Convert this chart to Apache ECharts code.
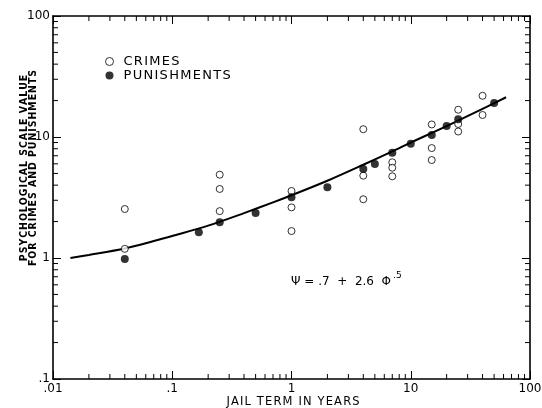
<!DOCTYPE html>
<html>
<head>
<meta charset="utf-8">
<script src="https://cdn.jsdelivr.net/npm/echarts@6/dist/echarts.min.js"></script>
<style>
  html, body { margin: 0; padding: 0; background: #fff; }
  #chart { width: 542px; height: 408px; }
</style>
</head>
<body>
<div id="chart"></div>
<script>
/* 数据: [jail term in years, psychological scale value] */
var crimes = [
    [0.04, 2.54], [0.04, 1.19],
    [0.25, 4.88], [0.25, 3.72], [0.25, 2.44],
    [1, 3.58], [1, 2.62], [1, 1.67],
    [4, 11.6], [4, 4.79], [4, 3.06],
    [7, 6.18], [7, 5.57], [7, 4.73],
    [15, 12.7], [15, 8.1], [15, 6.45],
    [25, 16.8], [25, 12.8], [25, 11.1],
    [40, 21.9], [40, 15.2]
];
var punishments = [
    [0.04, 0.98], [0.167, 1.63], [0.25, 1.97], [0.5, 2.35],
    [1, 3.17], [2, 3.84], [4, 5.44], [5, 5.98], [7, 7.42],
    [10, 8.8], [15, 10.4], [20, 12.3], [25, 14.0], [50, 19.1]
];
/* fitted curve */
var fitCurve = [
    [0.014, 1.0], [0.02, 1.06], [0.04, 1.2], [0.07, 1.38], [0.1, 1.52],
    [0.2, 1.85], [0.4, 2.35], [0.7, 2.88], [1, 3.3], [2, 4.35],
    [4, 5.9], [7, 7.6], [10, 9.0], [20, 12.3], [40, 17.1], [63, 21.3]
];
var xMinorTicks = [0.02,0.03,0.04,0.05,0.06,0.07,0.08,0.09,
    0.2,0.3,0.4,0.5,0.6,0.7,0.8,0.9, 2,3,4,5,6,7,8,9, 20,30,40,50,60,70,80,90];
var yMinorTicks = [0.2,0.3,0.4,0.5,0.6,0.7,0.8,0.9, 2,3,4,5,6,7,8,9, 20,30,40,50,60,70,80,90];

var FONT = 'DejaVu Sans';

/*字母间距*/
var spaced = function (s) {
    return s.split('').join('\u200A');
};
var tickLabel = function (v) {
    if (v < 1) return String(v).replace(/^0/, '');
    return String(v);
};

var box = document.getElementById('chart');
var myChart = echarts.init(box);

var minorTickSeries = function (vals, dim) {
    return {
        type: 'custom',
        silent: true,
        coordinateSystem: 'cartesian2d',
        data: vals.map(function (v) { return [v]; }),
        clip: false,
        z: 5,
        renderItem: function (params, api) {
            var v = api.value(0);
            var a, b, L = 5, style = { stroke: '#000', lineWidth: 1 };
            if (dim === 'x') {
                a = api.coord([v, 0.1]);
                b = api.coord([v, 100]);
                return { type: 'group', children: [
                    { type: 'line', shape: { x1: a[0], y1: a[1], x2: a[0], y2: a[1] - L }, style: style },
                    { type: 'line', shape: { x1: b[0], y1: b[1], x2: b[0], y2: b[1] + L }, style: style }
                ]};
            }
            a = api.coord([0.01, v]);
            b = api.coord([100, v]);
            return { type: 'group', children: [
                { type: 'line', shape: { x1: a[0], y1: a[1], x2: a[0] + L, y2: a[1] }, style: style },
                { type: 'line', shape: { x1: b[0], y1: b[1], x2: b[0] - L, y2: b[1] }, style: style }
            ]};
        }
    };
};

var axisCommon = {
    type: 'log',
    logBase: 10,
    axisLine: { show: true, lineStyle: { color: '#000', width: 1.6 } },
    axisTick: { show: true, inside: true, length: 8, lineStyle: { color: '#000', width: 1 } },
    splitLine: { show: false }
};

var option = {
    animation: false,
    backgroundColor: '#fff',
    grid: { left: 53, right: 12, top: 16, bottom: 29, outerBoundsMode: 'none', containLabel: false },
    legend: {
        orient: 'vertical',
        left: 100,
        top: 50,
        itemWidth: 8,
        itemHeight: 8,
        itemGap: 1,
        icon: 'circle',
        textStyle: { fontFamily: FONT, fontSize: 13, color: '#000', padding: [0, 0, 0, 5] },
        formatter: function (n) { return spaced(n); },
        data: [
            { name: 'CRIMES', itemStyle: { color: '#fff', borderColor: '#000', borderWidth: 1 } },
            { name: 'PUNISHMENTS', itemStyle: { color: '#000' } }
        ]
    },
    xAxis: [
        Object.assign({}, axisCommon, {
            min: 0.01, max: 100,
            position: 'bottom',
            axisLabel: { fontFamily: FONT, fontSize: 12, color: '#000', margin: 4, formatter: tickLabel }
        }),
        Object.assign({}, axisCommon, {
            min: 0.01, max: 100,
            position: 'top',
            axisLabel: { show: false }
        })
    ],
    yAxis: [
        Object.assign({}, axisCommon, {
            min: 0.1, max: 100,
            position: 'left',
            axisLabel: { fontFamily: FONT, fontSize: 12, color: '#000', margin: 3, formatter: tickLabel }
        }),
        Object.assign({}, axisCommon, {
            min: 0.1, max: 100,
            position: 'right',
            axisLabel: { show: false }
        })
    ],
    graphic: [
        {
            type: 'text',
            x: 29,
            y: 168,
            rotation: Math.PI / 2,
            style: {
                text: spaced('PSYCHOLOGICAL SCALE VALUE') + '\n' + spaced('FOR CRIMES AND PUNISHMENTS'),
                fontFamily: 'DejaVu Sans Condensed, DejaVu Sans',
                fontSize: 10.5,
                fontWeight: 'bold',
                lineHeight: 9,
                fill: '#000',
                align: 'center',
                verticalAlign: 'middle'
            }
        },
        {
            type: 'text',
            x: 293,
            y: 402,
            style: {
                text: spaced('JAIL TERM IN YEARS'),
                fontFamily: FONT,
                fontSize: 11.5,
                fill: '#000',
                align: 'center',
                verticalAlign: 'middle'
            }
        },
        {
            type: 'text',
            left: 291,
            top: 271,
            style: {
                text: '{a|\u03A8 = .7  +  2.6  \u03A6}{b|.5}',
                rich: {
                    a: { fontFamily: FONT, fontSize: 12, fill: '#000', verticalAlign: 'bottom' },
                    b: { fontFamily: FONT, fontSize: 9, fill: '#000', verticalAlign: 'top', padding: [0, 0, 8, 2] }
                }
            }
        }
    ],
    series: [
        {
            name: 'fit',
            type: 'line',
            smooth: 0.3,
            showSymbol: false,
            data: fitCurve,
            lineStyle: { color: '#000', width: 2 },
            z: 2
        },
        {
            name: 'CRIMES',
            type: 'scatter',
            symbol: 'circle',
            symbolSize: 7,
            data: crimes,
            itemStyle: { color: '#fff', borderColor: '#000', borderWidth: 1 },
            z: 3
        },
        {
            name: 'PUNISHMENTS',
            type: 'scatter',
            symbol: 'circle',
            symbolSize: 8,
            data: punishments,
            itemStyle: { color: '#000' },
            z: 4
        },
        minorTickSeries(xMinorTicks, 'x'),
        minorTickSeries(yMinorTicks, 'y')
    ]
};

myChart.setOption(option);
</script>
</body>
</html>
